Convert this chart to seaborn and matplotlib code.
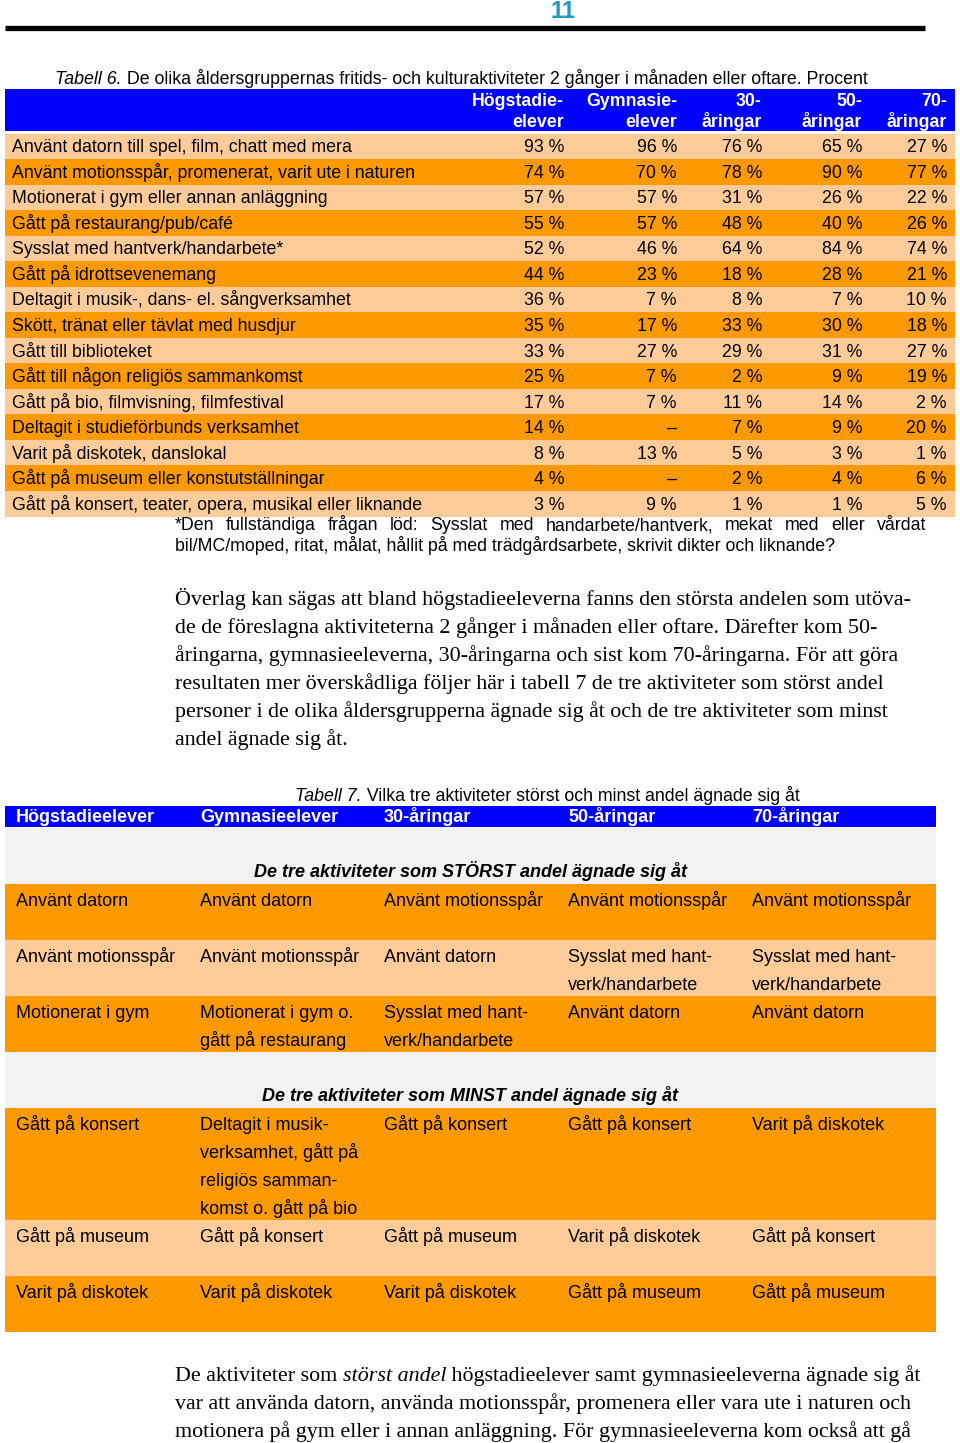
import numpy as np
import matplotlib
matplotlib.use("Agg")
import matplotlib.pyplot as plt
from matplotlib.colors import ListedColormap
from matplotlib.patches import Rectangle
import seaborn as sns

# ---------------- data ----------------
activities = [
    "Använt datorn till spel, film, chatt med mera",
    "Använt motionsspår, promenerat, varit ute i naturen",
    "Motionerat i gym eller annan anläggning",
    "Gått på restaurang/pub/café",
    "Sysslat med hantverk/handarbete*",
    "Gått på idrottsevenemang",
    "Deltagit i musik-, dans- el. sångverksamhet",
    "Skött, tränat eller tävlat med husdjur",
    "Gått till biblioteket",
    "Gått till någon religiös sammankomst",
    "Gått på bio, filmvisning, filmfestival",
    "Deltagit i studieförbunds verksamhet",
    "Varit på diskotek, danslokal",
    "Gått på museum eller konstutställningar",
    "Gått på konsert, teater, opera, musikal eller liknande",
]
col_headers = [("Högstadie-", "elever"), ("Gymnasie-", "elever"),
               ("30-", "åringar"), ("50-", "åringar"), ("70-", "åringar")]
hogstadie = [93, 74, 57, 55, 52, 44, 36, 35, 33, 25, 17, 14, 8, 4, 3]
gymnasie = [96, 70, 57, 57, 46, 23, 7, 17, 27, 7, 7, None, 13, None, 9]
aring30 = [76, 78, 31, 48, 64, 18, 8, 33, 29, 2, 11, 7, 5, 2, 1]
aring50 = [65, 90, 26, 40, 84, 28, 7, 30, 31, 9, 14, 9, 3, 4, 1]
aring70 = [27, 77, 22, 26, 74, 21, 10, 18, 27, 19, 2, 20, 1, 6, 5]

groups7 = ["Högstadieelever", "Gymnasieelever", "30-åringar", "50-åringar", "70-åringar"]
most_title = "De tre aktiviteter som STÖRST andel ägnade sig åt"
least_title = "De tre aktiviteter som MINST andel ägnade sig åt"
most7 = [
    ["Använt datorn", "Använt datorn", "Använt motionsspår", "Använt motionsspår", "Använt motionsspår"],
    ["Använt motionsspår", "Använt motionsspår", "Använt datorn", "Sysslat med hant-\nverk/handarbete", "Sysslat med hant-\nverk/handarbete"],
    ["Motionerat i gym", "Motionerat i gym o.\ngått på restaurang", "Sysslat med hant-\nverk/handarbete", "Använt datorn", "Använt datorn"],
]
least7 = [
    ["Gått på konsert", "Deltagit i musik-\nverksamhet, gått på\nreligiös samman-\nkomst o. gått på bio", "Gått på konsert", "Gått på konsert", "Varit på diskotek"],
    ["Gått på museum", "Gått på konsert", "Gått på museum", "Varit på diskotek", "Gått på konsert"],
    ["Varit på diskotek", "Varit på diskotek", "Varit på diskotek", "Gått på museum", "Gått på museum"],
]

caption6_it = "Tabell 6."
caption6 = " De olika åldersgruppernas fritids- och kulturaktiviteter 2 gånger i månaden eller oftare. Procent"
caption7_it = "Tabell 7."
caption7 = " Vilka tre aktiviteter störst och minst andel ägnade sig åt"
footnote = ["*Den fullständiga frågan löd: Sysslat med handarbete/hantverk, mekat med eller vårdat",
            "bil/MC/moped, ritat, målat, hållit på med trädgårdsarbete, skrivit dikter och liknande?"]
para1 = [
    "Överlag kan sägas att bland högstadieeleverna fanns den största andelen som utöva-",
    "de de föreslagna aktiviteterna 2 gånger i månaden eller oftare. Därefter kom 50-",
    "åringarna, gymnasieeleverna, 30-åringarna och sist kom 70-åringarna. För att göra",
    "resultaten mer överskådliga följer här i tabell 7 de tre aktiviteter som störst andel",
    "personer i de olika åldersgrupperna ägnade sig åt och de tre aktiviteter som minst",
    "andel ägnade sig åt.",
]
para2 = [
    [("De aktiviteter som ", "normal"), ("störst andel", "italic"),
     (" högstadieelever samt gymnasieeleverna ägnade sig åt", "normal")],
    [("var att använda datorn, använda motionsspår, promenera eller vara ute i naturen och", "normal")],
    [("motionera på gym eller i annan anläggning. För gymnasieeleverna kom också att gå", "normal")],
]

# ---------------- style ----------------
sns.set_theme(style="white")
plt.rcParams["font.family"] = ["Liberation Sans", "DejaVu Sans"]

BLUE = "#0000FF"
ORANGE = "#FF9900"
LIGHT = "#FFCC99"
GRAY = "#F2F2F2"
SANS = ["Liberation Sans", "DejaVu Sans"]
SERIF = ["Liberation Serif", "DejaVu Serif"]
FS6 = 12.8      # table 6 text
FS7 = 13.0      # table 7 text
FSP = 15.8      # body paragraphs

W, H = 960, 1443
fig = plt.figure(figsize=(W / 100, H / 100), dpi=100)
fig.patch.set_facecolor("white")

# table 6 body stripes via seaborn heatmap
t6_top, t6_bot = 133.5, 516.5
n = len(activities)
hax = fig.add_axes([5 / W, 1 - t6_bot / H, 950 / W, (t6_bot - t6_top) / H])
parity = (np.arange(n) % 2).reshape(-1, 1)
sns.heatmap(parity, cmap=ListedColormap([LIGHT, ORANGE]), cbar=False, ax=hax,
            xticklabels=False, yticklabels=False, linewidths=0)
hax.set_axis_off()

ax = fig.add_axes([0, 0, 1, 1])
ax.set_xlim(0, W)
ax.set_ylim(H, 0)
ax.set_axis_off()
renderer = fig.canvas.get_renderer()


def txt(x, y, s, size=FS6, family=SANS, **kw):
    """y is the visual centre of the capitals; draw on the baseline."""
    kw.setdefault("color", "black")
    return ax.text(x, y + 0.47 * size, s, fontsize=size, family=family,
                   va="baseline", **kw)


def width(t):
    return t.get_window_extent(renderer).width


def chain(x, y, parts, size, family, **kw):
    for s, style in parts:
        t = txt(x, y, s, size=size, family=family, style=style, **kw)
        x += width(t)
    return x


def justify(x0, x1, y, line, size, family):
    words = line.split(" ")
    ts = [txt(x0, y, w, size=size, family=family) for w in words]
    ws = [width(t) for t in ts]
    gap = (x1 - x0 - sum(ws)) / (len(words) - 1)
    x = x0
    for t, w in zip(ts, ws):
        t.set_x(x)
        x += w + gap


# page number and rule
txt(563, 10, "11", size=17, color="#1E9AC2", weight="bold", ha="center")
ax.plot([5, 925], [27.5, 27.5], color="black", lw=3.8, solid_capstyle="butt")

# ---------------- table 6 ----------------
chain(55, 78, [(caption6_it, "italic"), (caption6, "normal")], FS6, SANS)
ax.add_patch(Rectangle((5, 89), 950, 42, color=BLUE, lw=0))
right_edges = [564, 677, 762, 862, 947]
for (l1, l2), xr in zip(col_headers, right_edges):
    txt(xr, 100, l1, color="white", weight="bold", ha="right")
    txt(xr, 121, l2, color="white", weight="bold", ha="right")

row_h = (t6_bot - t6_top) / n
series = [hogstadie, gymnasie, aring30, aring50, aring70]
for i, act in enumerate(activities):
    yc = t6_top + row_h * (i + 0.5)
    txt(12, yc, act)
    for vals, xr in zip(series, right_edges):
        v = vals[i]
        txt(xr, yc, "–" if v is None else f"{v} %", ha="right")

justify(175, 926, 524, footnote[0], FS6, SANS)
txt(175, 545, footnote[1])

# paragraph
for k, line in enumerate(para1):
    txt(175, 598 + 28 * k, line, size=FSP, family=SERIF)

# ---------------- table 7 ----------------
chain(295, 795, [(caption7_it, "italic"), (caption7, "normal")], FS6, SANS)
t7_x0, t7_x1 = 5, 936
col_x = [16, 200, 384, 568, 752]
ax.add_patch(Rectangle((t7_x0, 806), t7_x1 - t7_x0, 21, color=BLUE, lw=0))
for g, cx in zip(groups7, col_x):
    txt(cx, 816, g, size=FS7, color="white", weight="bold")

LINE = 28
y = 828
for title, rows in [(most_title, most7), (least_title, least7)]:
    ax.add_patch(Rectangle((t7_x0, y), t7_x1 - t7_x0, 2 * LINE, color=GRAY, lw=0))
    txt((t7_x0 + t7_x1) / 2, y + 43, title, size=FS7, weight="bold", style="italic", ha="center")
    y += 2 * LINE
    for r, cells in enumerate(rows):
        nlines = max(max(len(c.split("\n")) for c in cells), 2)
        hgt = nlines * LINE
        ax.add_patch(Rectangle((t7_x0, y), t7_x1 - t7_x0, hgt,
                               color=ORANGE if r % 2 == 0 else LIGHT, lw=0))
        for c, cx in zip(cells, col_x):
            for k, part in enumerate(c.split("\n")):
                txt(cx, y + 16 + LINE * k, part, size=FS7)
        y += hgt

# closing paragraph
for k, parts in enumerate(para2):
    chain(175, 1374 + 28 * k, parts, FSP, SERIF)

fig.savefig("out.png", dpi=100, facecolor="white")
